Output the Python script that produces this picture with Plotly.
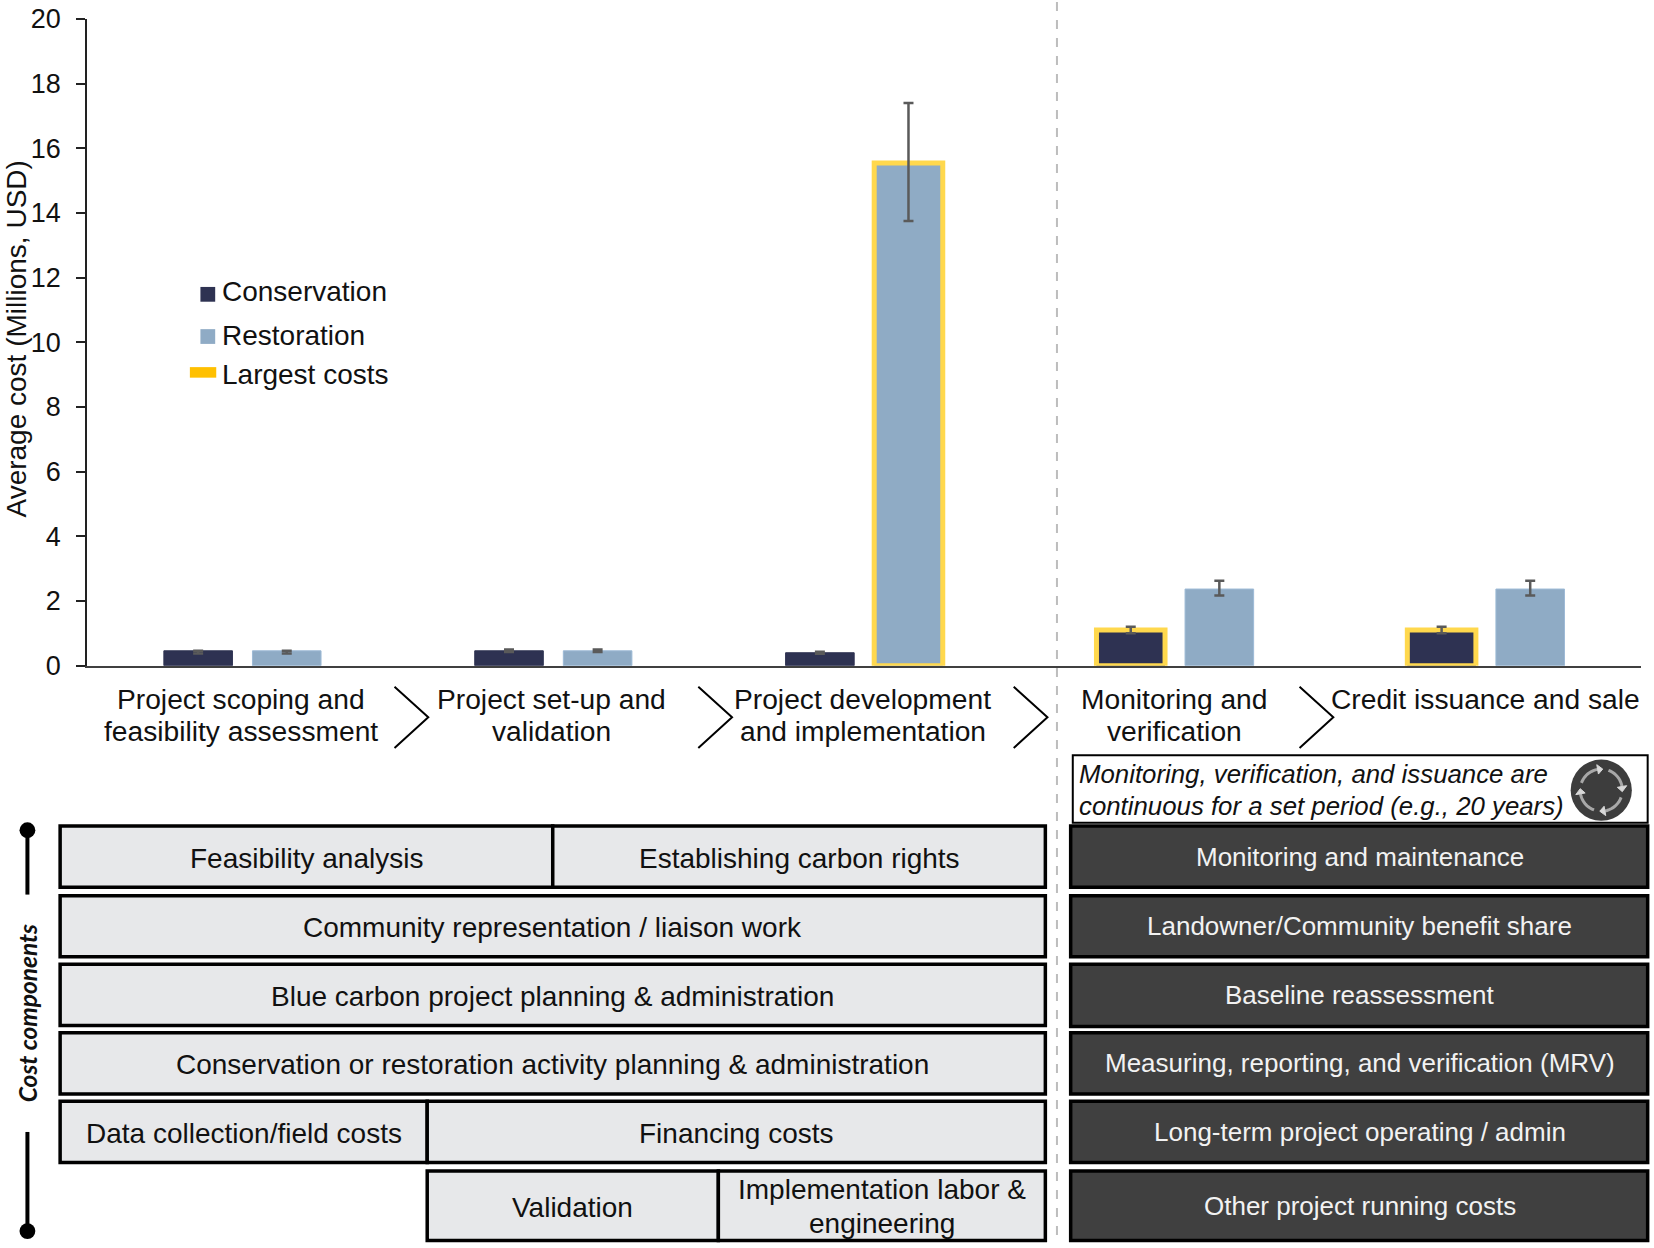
import math
import plotly.graph_objects as go

stages = ["Project scoping and<br>feasibility assessment", "Project set-up and<br>validation",
          "Project development<br>and implementation", "Monitoring and<br>verification", "Credit issuance and sale"]
conservation = [0.46, 0.46, 0.40, 1.10, 1.10]
conservation_plus = [0.0, 0.04, 0.03, 0.10, 0.10]
conservation_minus = [0.08, 0.04, 0.03, 0.10, 0.10]
restoration = [0.46, 0.46, 15.55, 2.37, 2.37]
restoration_plus = [0.0, 0.04, 1.85, 0.26, 0.26]
restoration_minus = [0.08, 0.04, 1.80, 0.20, 0.20]
conservation_largest = [False, False, False, True, True]
restoration_largest = [False, False, True, False, False]
y_ticks = list(range(0, 21, 2))

left_labels = ["Feasibility analysis", "Establishing carbon rights", "Community representation / liaison work",
               "Blue carbon project planning & administration",
               "Conservation or restoration activity planning & administration",
               "Data collection/field costs", "Financing costs", "Validation",
               "Implementation labor &<br>engineering"]
right_labels = ["Monitoring and maintenance", "Landowner/Community benefit share", "Baseline reassessment",
                "Measuring, reporting, and verification (MRV)", "Long-term project operating / admin",
                "Other project running costs"]
note_lines = ["Monitoring, verification, and issuance are", "continuous for a set period (e.g., 20 years)"]

FONT = "Liberation Sans"
NAVY = "#2E3252"
BLUE = "#8FABC5"
YELLOW = "#FFD84D"
GREY = "#E7E8EA"
DARK = "#404040"


# layout below was measured on a 1568x1183 view of the picture
def X(v):
    return v / 1568


def Y(v):
    return 1 - v / 1183


def line_colors(flags, plain):
    return [YELLOW if f else plain for f in flags]


def line_widths(flags):
    return [5 if f else 1 for f in flags]


fig = go.Figure()
fig.add_trace(go.Bar(x=stages, y=conservation, name="Conservation", marker_color=NAVY,
                     marker_line_color=line_colors(conservation_largest, NAVY),
                     marker_line_width=line_widths(conservation_largest),
                     error_y=dict(type="data", array=conservation_plus, arrayminus=conservation_minus,
                                  color="#5A5A5A", thickness=2.5, width=5)))
fig.add_trace(go.Bar(x=stages, y=restoration, name="Restoration", marker_color=BLUE,
                     marker_line_color=line_colors(restoration_largest, "#9DBAD6"),
                     marker_line_width=line_widths(restoration_largest),
                     error_y=dict(type="data", array=restoration_plus, arrayminus=restoration_minus,
                                  color="#5A5A5A", thickness=2.5, width=5)))

shapes = []
annotations = []


def text(x, y, s, size=28, color="#111111", anchor="center", angle=0, family=FONT):
    annotations.append(dict(x=X(x), y=Y(y), xref="paper", yref="paper", text=s, showarrow=False,
                            xanchor=anchor, yanchor="middle", textangle=angle,
                            font=dict(family=family, size=size, color=color)))


def box(x0, y0, x1, y1, fill, width=3.5):
    shapes.append(dict(type="rect", xref="paper", yref="paper", x0=X(x0), x1=X(x1), y0=Y(y0), y1=Y(y1),
                       fillcolor=fill, line=dict(color="black", width=width)))


def seg(points, color="black", width=2, dash="solid", fill=None):
    path = "M " + " L ".join(f"{X(a):.5f},{Y(b):.5f}" for a, b in points)
    if fill:
        path += " Z"
    shapes.append(dict(type="path", xref="paper", yref="paper", path=path, fillcolor=fill,
                       line=dict(color=color, width=width, dash=dash)))


def dot(cx, cy, r, fill):
    shapes.append(dict(type="circle", xref="paper", yref="paper", x0=X(cx - r), x1=X(cx + r), y0=Y(cy + r), y1=Y(cy - r),
                       fillcolor=fill, line=dict(color=fill, width=0)))


# divider between one-off and recurring stages
seg([(1002, 2), (1002, 1178)], color="#BDBDBD", width=2, dash="dash")

# stage names and chevrons
stage_x = [228, 523, 818, 1113, 1408]
for cx, stage in zip(stage_x, stages):
    for i, part in enumerate(stage.split("<br>")):
        text(cx, 663 + i * 30, part, size=28.2)
for cx in [374, 662, 961, 1232]:
    seg([(cx, 651), (cx + 32, 680), (cx, 709)], width=2)

# left cost component boxes
left_boxes = [(57, 783, 524, 841), (524, 783, 991, 841), (57, 849, 991, 907), (57, 914, 991, 972), (57, 979, 991, 1037),
              (57, 1044, 405, 1102), (405, 1044, 991, 1102), (405, 1110, 681, 1176), (681, 1110, 991, 1176)]
for label, (x0, y0, x1, y1) in zip(left_labels, left_boxes):
    box(x0, y0, x1, y1, GREY)
    if "<br>" in label:
        for i, part in enumerate(label.split("<br>")):
            text((x0 + x1) / 2 , 1128 + i * 32, part)
    else:
        text((x0 + x1) / 2, (y0 + y1) / 2 + 1.5, label)

# right cost component boxes
right_rows = [(783, 841), (849, 907), (914, 973), (979, 1037), (1044, 1102), (1110, 1176)]
for label, (y0, y1) in zip(right_labels, right_rows):
    box(1015, y0, 1562, y1, DARK)
    text(1289, (y0 + y1) / 2, label, size=26, color="#F2F2F2")

# note with the cycle icon
box(1017, 716, 1562, 780, "white", width=2)
for i, line in enumerate(note_lines):
    text(1021, 734 + i * 30, f"<i>{line}</i>", size=25.8, anchor="left")
dot(1518, 749, 29, "#3D3D3D")
for start in [-70, 20, 110, 200]:
    arc = [(1518 + 20 * math.cos(math.radians(a)), 749 + 20 * math.sin(math.radians(a))) for a in range(start, start + 64, 6)]
    seg(arc, color="#A8A8A8", width=3)
    a = math.radians(start + 74)
    tip = (1518 + 20 * math.cos(a), 749 + 20 * math.sin(a))
    b = math.radians(start + 60)
    seg([(1518 + 24.5 * math.cos(b), 749 + 24.5 * math.sin(b)), tip, (1518 + 15.5 * math.cos(b), 749 + 15.5 * math.sin(b))],
        color="#D8D8D8", width=1, fill="#D8D8D8")

# cost components bracket
seg([(26, 790), (26, 848)], width=4)
seg([(26, 1073), (26, 1162)], width=4)
dot(26, 787, 7.5, "black")
dot(26, 1167, 7.5, "black")
text(26, 960, "<i><b>Cost components</b></i>", size=24.5, angle=-90, family="Lato")

# axis title
text(16, 321, "Average cost (Millions, USD)", size=28, angle=-90)

# legend
shapes.append(dict(type="rect", xref="paper", yref="paper", x0=X(190), x1=X(204), y0=Y(286), y1=Y(272), fillcolor=NAVY, line_width=0))
shapes.append(dict(type="rect", xref="paper", yref="paper", x0=X(190), x1=X(204), y0=Y(326), y1=Y(312), fillcolor=BLUE, line_width=0))
shapes.append(dict(type="rect", xref="paper", yref="paper", x0=X(180), x1=X(205), y0=Y(358), y1=Y(348), fillcolor="#FFC000", line_width=0))
text(209, 276, "Conservation", anchor="left")
text(209, 318, "Restoration", anchor="left")
text(209, 355, "Largest costs", anchor="left")

fig.update_layout(
    width=1654, height=1248, margin=dict(l=0, r=0, t=0, b=0, pad=0),
    paper_bgcolor="white", plot_bgcolor="white", showlegend=False,
    barmode="group", bargap=0.43, bargroupgap=0.226,
    font=dict(family=FONT, color="#111111"),
    shapes=shapes, annotations=annotations,
    xaxis=dict(domain=[X(82.5), X(1556)], showticklabels=False, ticks="", showline=True, linecolor="#404040", linewidth=2,
               showgrid=False, zeroline=False, automargin=False),
    yaxis=dict(domain=[Y(631), Y(18)], range=[0, 20], tickvals=y_ticks, ticks="outside", ticklen=9, tickwidth=1.5,
               tickcolor="#222222", showline=True, linecolor="#222222", linewidth=1.5, showgrid=False, zeroline=False,
               tickfont=dict(family=FONT, size=27, color="#111111"), ticklabelstandoff=10, automargin=False),
)

# page margin would push the figure off the window
fig.write_html("out.html", post_script="document.body.style.margin='0';", config={"displayModeBar": False})
